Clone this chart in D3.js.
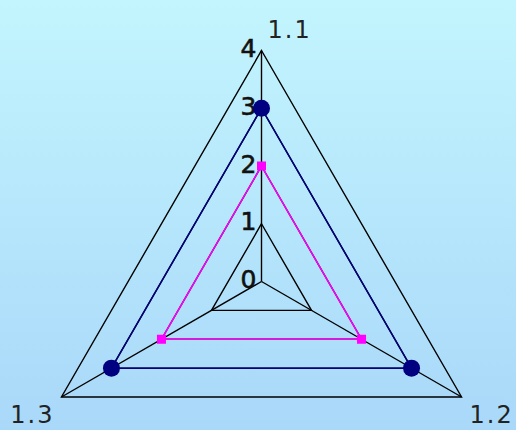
<!DOCTYPE html>
<html>
<head>
<meta charset="utf-8">
<script src="https://cdn.jsdelivr.net/npm/d3@7"></script>
<style>
	html, body { margin: 0; padding: 0; }
	svg { display: block; }
	.axislabel { font-family: "DejaVu Sans"; font-size: 24px; fill: #222; letter-spacing: 2px; }
	.ticklabel { font-family: "DejaVu Sans"; font-size: 25px; fill: #111; stroke: #111; stroke-width: 0.6px; }
</style>
</head>
<body>
<svg class="chart"></svg>
<script>
// Chart data
var categories = ["1.1", "1.2", "1.3"];
var seriesNavy = [3, 3, 3];
var seriesPink = [2, 2, 2];
var tickValues = [0, 1, 2, 3, 4];

// Draw radar chart
function drawRadar() {
	var width = 516, height = 430,
		cx = 261.5, cy = 281.5, radius = 231;

	var svg = d3.select(".chart")
		.attr("width", width)
		.attr("height", height);

	var grad = svg.append("defs").append("linearGradient")
		.attr("id", "bg")
		.attr("x1", 0).attr("y1", 0)
		.attr("x2", 0).attr("y2", 1);
	grad.append("stop").attr("offset", "0%").attr("stop-color", "#c3f5fe");
	grad.append("stop").attr("offset", "100%").attr("stop-color", "#a9d8f9");

	svg.append("rect")
		.attr("width", width)
		.attr("height", height)
		.attr("fill", "url(#bg)");

	var r = d3.scaleLinear()
		.domain([0, d3.max(tickValues)])
		.range([0, radius]);

	var angle = d3.scaleBand()
		.domain(categories)
		.range([0, 2 * Math.PI])
		.padding(0);

	var chart = svg.append("g")
		.attr("transform", "translate(" + cx + "," + cy + ")");

	function px(cat, v) { return r(v) * Math.sin(angle(cat)); }
	function py(cat, v) { return -r(v) * Math.cos(angle(cat)); }

	var radial = d3.lineRadial()
		.curve(d3.curveLinearClosed);

	// grid triangles
	chart.selectAll(".grid")
		.data(tickValues.slice(1))
	  .enter().append("path")
		.attr("class", "grid")
		.attr("d", function(t) {
			return radial(categories.map(function(c) { return [angle(c), r(t)]; }));
		})
		.attr("fill", "none")
		.attr("stroke", "#000")
		.attr("stroke-width", 1.4);

	// spokes
	chart.selectAll(".spoke")
		.data(categories)
	  .enter().append("line")
		.attr("class", "spoke")
		.attr("x1", 0).attr("y1", 0)
		.attr("x2", function(c) { return px(c, d3.max(tickValues)); })
		.attr("y2", function(c) { return py(c, d3.max(tickValues)); })
		.attr("stroke", "#000")
		.attr("stroke-width", 1.4);

	// series lines
	var series = [
		{values: seriesNavy, color: "#000080", shape: "circle"},
		{values: seriesPink, color: "#ff00ff", shape: "square"}
	];

	series.forEach(function(s) {
		chart.append("path")
			.attr("d", radial(categories.map(function(c, i) { return [angle(c), r(s.values[i])]; })))
			.attr("fill", "none")
			.attr("stroke", s.color)
			.attr("stroke-width", 1.5);
	});

	// tick labels
	chart.selectAll(".ticklabel")
		.data(tickValues)
	  .enter().append("text")
		.attr("class", "ticklabel")
		.attr("x", -5)
		.attr("y", function(t) { return -r(t) - 2; })
		.attr("text-anchor", "end")
		.attr("dominant-baseline", "central")
		.text(function(t) { return t; });

	// markers
	series.forEach(function(s) {
		var pts = categories.map(function(c, i) { return [px(c, s.values[i]), py(c, s.values[i])]; });
		if (s.shape === "circle") {
			chart.selectAll(null).data(pts)
			  .enter().append("circle")
				.attr("cx", function(d) { return d[0]; })
				.attr("cy", function(d) { return d[1]; })
				.attr("r", 8.5)
				.attr("fill", s.color);
		} else {
			chart.selectAll(null).data(pts)
			  .enter().append("rect")
				.attr("x", function(d) { return d[0] - 4.5; })
				.attr("y", function(d) { return d[1] - 4.5; })
				.attr("width", 9)
				.attr("height", 9)
				.attr("fill", s.color);
		}
	});

	// axis labels
	var labelOffset = {"1.1": [6, -13, "start"], "1.2": [8, 26, "start"], "1.3": [-7, 26, "end"]};
	chart.selectAll(".axislabel")
		.data(categories)
	  .enter().append("text")
		.attr("class", "axislabel")
		.attr("x", function(c) { return px(c, d3.max(tickValues)) + labelOffset[c][0]; })
		.attr("y", function(c) { return py(c, d3.max(tickValues)) + labelOffset[c][1]; })
		.attr("text-anchor", function(c) { return labelOffset[c][2]; })
		.text(function(c) { return c; });
}

drawRadar();
</script>
</body>
</html>
